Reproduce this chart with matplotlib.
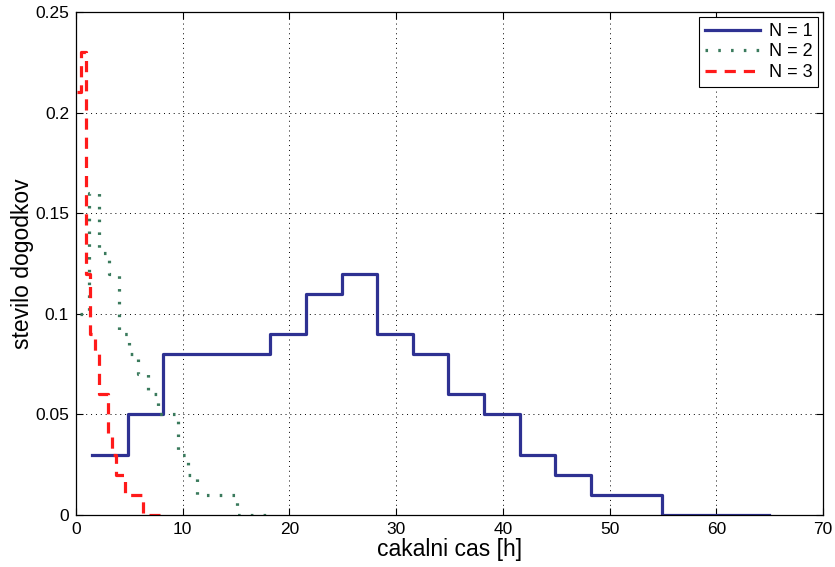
"""Waiting time histogram (stairs) for N = 1, 2, 3."""

import matplotlib

matplotlib.use("Agg")
import matplotlib.pyplot as plt

plt.rcParams["font.family"] = ["Liberation Sans", "DejaVu Sans"]

# N = 1
x_n1 = [1.5, 4.84, 8.18, 11.52, 14.86, 18.2, 21.54, 24.88, 28.22, 31.56,
        34.9, 38.24, 41.58, 44.92, 48.26, 51.6, 54.94, 58.28, 61.62, 64.96]
y_n1 = [0.03, 0.05, 0.08, 0.08, 0.08, 0.09, 0.11, 0.12, 0.09, 0.08,
        0.06, 0.05, 0.03, 0.02, 0.01, 0.01, 0.0, 0.0, 0.0, 0.0]

# N = 2
x_n2 = [0.33, 1.25, 2.17, 3.09, 4.01, 4.93, 5.85, 6.77, 7.69, 8.61,
        9.53, 10.45, 11.37, 12.29, 13.21, 14.13, 15.05, 15.97, 16.89, 17.81]
y_n2 = [0.10, 0.16, 0.13, 0.12, 0.09, 0.08, 0.07, 0.06, 0.05, 0.05,
        0.03, 0.02, 0.01, 0.01, 0.01, 0.01, 0.0, 0.0, 0.0, 0.0]

# N = 3
x_n3 = [0.1, 0.51, 0.92, 1.33, 1.74, 2.15, 2.56, 2.97, 3.38, 3.79,
        4.2, 4.61, 5.02, 5.43, 5.84, 6.25, 6.66, 7.07, 7.48, 7.89]
y_n3 = [0.21, 0.23, 0.12, 0.09, 0.08, 0.06, 0.06, 0.04, 0.03, 0.02,
        0.02, 0.01, 0.01, 0.01, 0.01, 0.0, 0.0, 0.0, 0.0, 0.0]

x_ticks = [0, 10, 20, 30, 40, 50, 60, 70]
y_ticks = [0, 0.05, 0.1, 0.15, 0.2, 0.25]
y_tick_labels = ["0", "0.05", "0.1", "0.15", "0.2", "0.25"]

fig = plt.figure(figsize=(8.35, 5.67), dpi=100)
ax = fig.add_axes([76 / 835, 1 - 515 / 567, (823 - 76) / 835, (515 - 12) / 567])

ax.step(x_n1, y_n1, where="post", color="#2e3192", linewidth=2.3, label="N = 1")
ax.step(x_n2, y_n2, where="post", color="#3a7a5c", linewidth=2.3,
        linestyle=(0, (0.8, 3.2)), label="N = 2")
ax.step(x_n3, y_n3, where="post", color="#ff1a1a", linewidth=2.3,
        linestyle=(0, (3.5, 2.5)), label="N = 3")

ax.set_xlim(0, 70)
ax.set_ylim(0, 0.25)
ax.set_xticks(x_ticks)
ax.set_yticks(y_ticks)
ax.set_yticklabels(y_tick_labels)
ax.tick_params(direction="in", top=True, right=True, length=5, width=0.8,
               labelsize=12.5, pad=5)
ax.grid(True, color="black", linestyle=(0, (1, 4)), linewidth=0.7)
for spine in ax.spines.values():
    spine.set_linewidth(0.9)

ax.set_xlabel("cakalni cas [h]", fontsize=16.5, labelpad=1)
ax.set_ylabel("stevilo dogodkov", fontsize=16.5, labelpad=0.5)

legend = ax.legend(loc="upper right", fontsize=13, handlelength=3.0,
                   fancybox=False, framealpha=1, edgecolor="black",
                   borderaxespad=0.25, labelspacing=0.2, handletextpad=0.5,
                   borderpad=0.35)
legend.get_frame().set_linewidth(0.8)

fig.savefig("out.png", dpi=100)
plt.close(fig)
